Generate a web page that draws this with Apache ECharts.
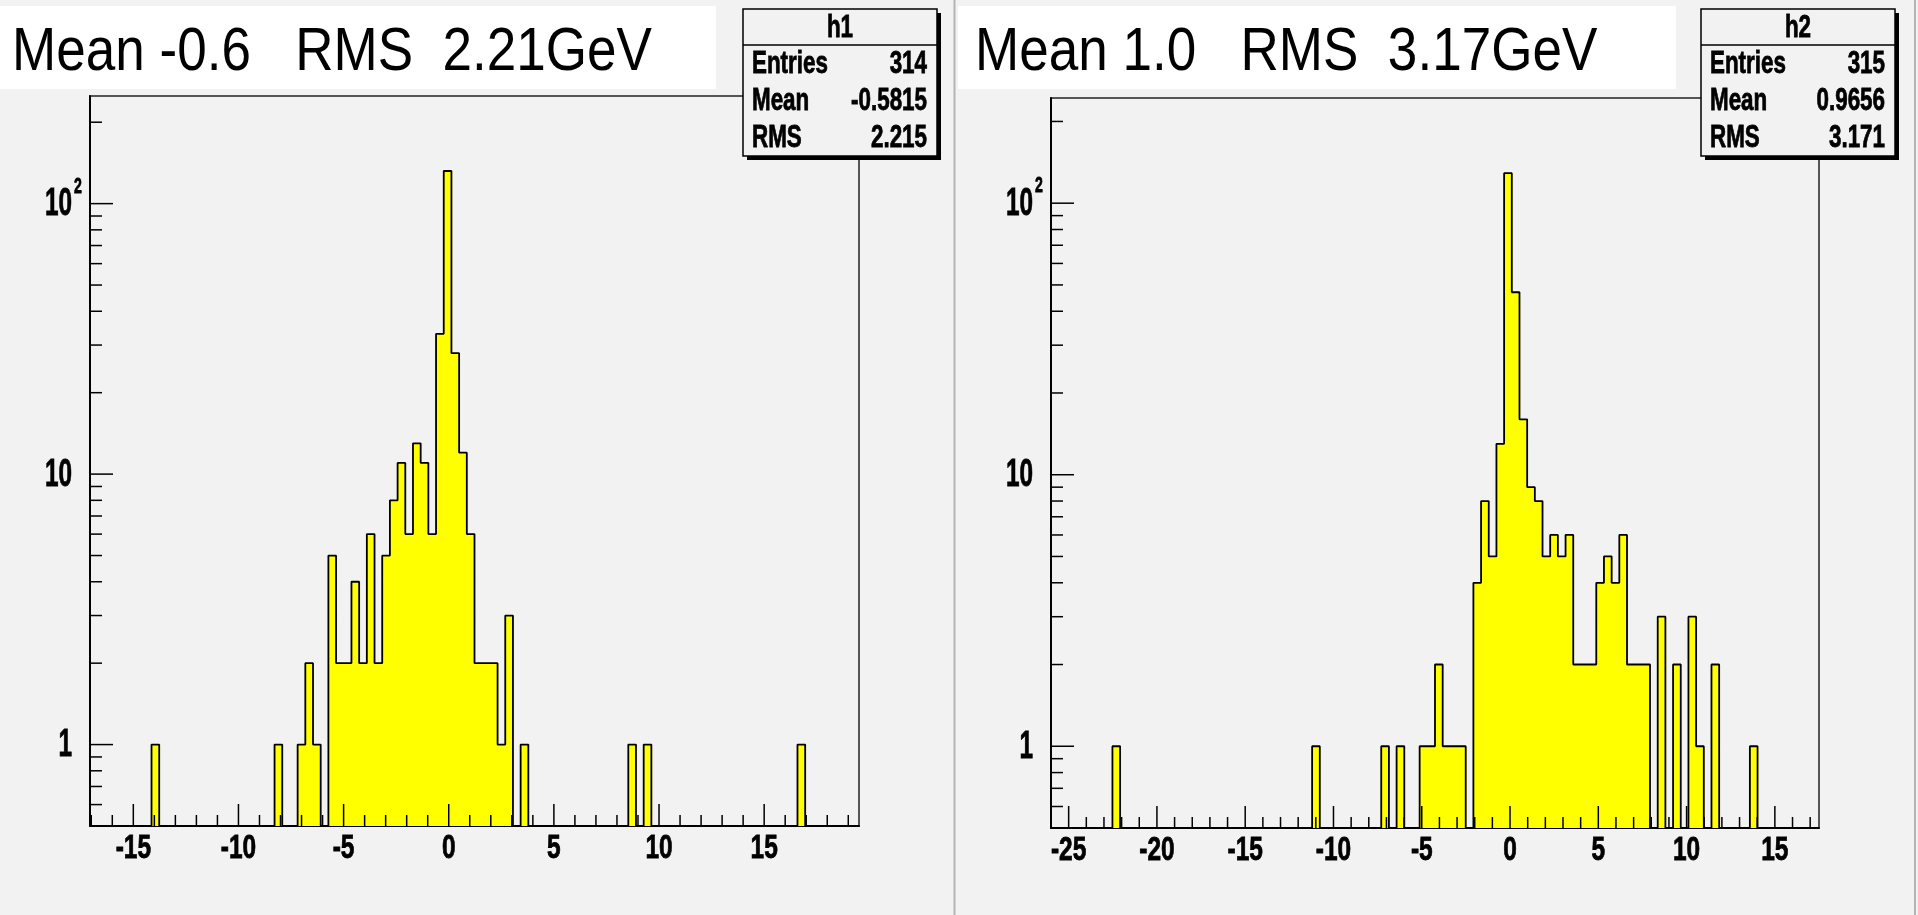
<!DOCTYPE html>
<html>
<head>
<meta charset="utf-8">
<title>h1 / h2</title>
<script src="https://cdn.jsdelivr.net/npm/echarts@6/dist/echarts.min.js"></script>
<style>
  html, body { margin: 0; padding: 0; background: #f2f2f2; }
  #main { width: 1918px; height: 915px; }
</style>
</head>
<body>
<div id="main"></div>
<script>
// ---- histogram contents (100 equal bins each, only non-empty bins listed) ----
const nBins = 100;

const h1Range = [-17.06, 19.51];
const h1Bins   = [8, 24, 27, 28, 29, 31, 32, 33, 34, 35, 36, 37, 38, 39, 40, 41, 42, 43, 44, 45, 46, 47, 48, 49, 50, 51, 52, 53, 54, 56, 70, 72, 92];
const h1Counts = [1, 1, 1, 2, 1, 5, 2, 2, 4, 2, 6, 2, 5, 8, 11, 6, 13, 11, 6, 33, 132, 28, 12, 6, 2, 2, 2, 1, 3, 1, 1, 1, 1];

const h2Range = [-26, 17.5];
const h2Bins   = [8, 34, 43, 45, 48, 49, 50, 51, 52, 53, 55, 56, 57, 58, 59, 60, 61, 62, 63, 64, 65, 66, 67, 68, 69, 70, 71, 72, 73, 74, 75, 76, 77, 79, 81, 83, 84, 86, 91];
const h2Counts = [1, 1, 1, 1, 1, 1, 2, 1, 1, 1, 4, 8, 5, 13, 129, 47, 16, 9, 8, 5, 6, 5, 6, 2, 2, 2, 4, 5, 4, 6, 2, 2, 2, 3, 2, 3, 1, 2, 1];

// ---- axes ----
const yRange1 = [0.5, 250];
const yRange2 = [0.5, 244];
const xTickLabels1 = [-15, -10, -5, 0, 5, 10, 15];
const xTickLabels2 = [-25, -20, -15, -10, -5, 0, 5, 10, 15];
const yMajorTicks = [1, 10, 100];
const yMajorBase  = ['1', '10', '10'];
const yMajorExp   = ['', '', '2'];
const yMinorTicks = [0.6, 0.7, 0.8, 0.9, 2, 3, 4, 5, 6, 7, 8, 9, 20, 30, 40, 50, 60, 70, 80, 90, 200];

// ---- texts ----
const titles = ['Mean -0.6   RMS  2.21GeV', 'Mean 1.0   RMS  3.17GeV'];
const statNames = ['h1', 'h2'];
const statLabels = ['Entries', 'Mean', 'RMS'];
const statValues1 = ['314', '-0.5815', '2.215'];
const statValues2 = ['315', '0.9656', '3.171'];

// ---- layout ----
const FONT = '"Liberation Sans", Arial, Helvetica, sans-serif';
const panels = [
  { grid: { left: 90, top: 96, width: 769, height: 730 },
    range: h1Range, bins: h1Bins, counts: h1Counts, yRange: yRange1, xTicks: xTickLabels1,
    title: titles[0], titleBox: [0, 6, 716, 83], titleX: 12,
    stat: { x: 743, y: 9, w: 194, h: 147 }, name: statNames[0], values: statValues1 },
  { grid: { left: 1051, top: 98, width: 768, height: 730 },
    range: h2Range, bins: h2Bins, counts: h2Counts, yRange: yRange2, xTicks: xTickLabels2,
    title: titles[1], titleBox: [958, 6, 718, 83], titleX: 975,
    stat: { x: 1701, y: 9, w: 194, h: 147 }, name: statNames[1], values: statValues2 }
];

// step outline of a histogram; empty bins sit on the lower edge of the log axis
function stepPoints(range, bins, counts, floor) {
  const w = (range[1] - range[0]) / nBins;
  const full = new Array(nBins).fill(0);
  bins.forEach((b, i) => { full[b] = counts[i]; });
  const pts = [];
  for (let k = 0; k < nBins; k++) {
    const y = full[k] > 0 ? full[k] : floor;
    pts.push([range[0] + k * w, y], [range[0] + (k + 1) * w, y]);
  }
  return pts;
}

// horizontal squeeze so a string occupies a given width
function squeeze(text, font, width) {
  const ctx = document.createElement('canvas').getContext('2d');
  ctx.font = font;
  return width / ctx.measureText(text).width;
}

const titleScale = squeeze(titles[0], '62px ' + FONT, 640);
const LABEL_SX = 0.72;
const YLABEL_SX = 0.64;
const STAT_SX = 0.70;
// thin outline on the glyphs to thicken the bold labels
const heavy = { stroke: '#000', lineWidth: 0.8 };

const grids = [], xAxes = [], yAxes = [], series = [], graphics = [];

panels.forEach((p, i) => {
  grids.push(Object.assign({ show: true, borderColor: '#222', borderWidth: 1.5, backgroundColor: 'transparent' }, p.grid));
  xAxes.push({
    type: 'value', gridIndex: i, min: p.range[0], max: p.range[1],
    axisLine: { show: true, onZero: false, lineStyle: { color: '#000', width: 2 } },
    axisTick: { show: false }, axisLabel: { show: false }, splitLine: { show: false }
  });
  yAxes.push({
    type: 'log', logBase: 10, gridIndex: i, min: p.yRange[0], max: p.yRange[1],
    axisLine: { show: true, onZero: false, lineStyle: { color: '#000', width: 2 } },
    axisTick: { show: false }, axisLabel: { show: false }, splitLine: { show: false }
  });

  // filled histogram
  series.push({
    type: 'line', xAxisIndex: i, yAxisIndex: i,
    data: stepPoints(p.range, p.bins, p.counts, p.yRange[0]),
    symbol: 'none', showSymbol: false, smooth: false, silent: true, clip: true, z: 2,
    lineStyle: { color: '#000', width: 1.8 },
    areaStyle: { color: '#ffff00', opacity: 1, origin: 'start' }
  });

  // x ticks: major every 5, minor every 1 (pointing into the frame)
  const xTickData = [];
  for (let v = Math.ceil(p.range[0]); v <= Math.floor(p.range[1]); v++) {
    if (v <= p.range[0] || v >= p.range[1]) continue;
    xTickData.push([v, p.yRange[0], p.xTicks.indexOf(v) >= 0 ? 1 : 0]);
  }
  series.push({
    type: 'custom', xAxisIndex: i, yAxisIndex: i, clip: false, silent: true, z: 5,
    data: xTickData,
    renderItem: (params, api) => {
      const c = api.coord([api.value(0), api.value(1)]);
      const len = api.value(2) ? 22 : 11;
      return { type: 'line', shape: { x1: c[0], y1: c[1], x2: c[0], y2: c[1] - len },
               style: { stroke: '#000', lineWidth: 1.5 } };
    }
  });

  // y ticks: decades long, 2..9 sub-decades short
  const yTickData = yMajorTicks.map(v => [p.range[0], v, 1])
    .concat(yMinorTicks.filter(v => v > p.yRange[0] && v < p.yRange[1]).map(v => [p.range[0], v, 0]));
  series.push({
    type: 'custom', xAxisIndex: i, yAxisIndex: i, clip: false, silent: true, z: 5,
    data: yTickData,
    renderItem: (params, api) => {
      const c = api.coord([api.value(0), api.value(1)]);
      const len = api.value(2) ? 23 : 12;
      return { type: 'line', shape: { x1: c[0], y1: c[1], x2: c[0] + len, y2: c[1] },
               style: { stroke: '#000', lineWidth: 1.5 } };
    }
  });

  // x tick labels
  series.push({
    type: 'custom', xAxisIndex: i, yAxisIndex: i, clip: false, silent: true, z: 6,
    data: p.xTicks.map(v => [v, p.yRange[0]]),
    renderItem: (params, api) => {
      const v = api.value(0);
      const c = api.coord([v, api.value(1)]);
      return { type: 'text', x: c[0], y: c[1] + 23, scaleX: LABEL_SX,
               style: Object.assign({ text: String(v), align: 'center', verticalAlign: 'middle',
                        fontFamily: FONT, fontWeight: 'bold', fontSize: 34, fill: '#000' }, heavy) };
    }
  });

  // y tick labels (10^2 with a raised exponent)
  series.push({
    type: 'custom', xAxisIndex: i, yAxisIndex: i, clip: false, silent: true, z: 6,
    data: yMajorTicks.map((v, j) => [p.range[0], v, j]),
    renderItem: (params, api) => {
      const j = api.value(2);
      const c = api.coord([api.value(0), api.value(1)]);
      const children = [{
        type: 'text', x: c[0] - 18, y: c[1] + 1, scaleX: YLABEL_SX,
        style: Object.assign({ text: yMajorBase[j], align: 'right', verticalAlign: 'middle',
                 fontFamily: FONT, fontWeight: 'bold', fontSize: 38, fill: '#000' }, heavy)
      }];
      if (yMajorExp[j]) {
        children.push({
          type: 'text', x: c[0] - 16, y: c[1] - 17, scaleX: YLABEL_SX,
          style: Object.assign({ text: yMajorExp[j], align: 'left', verticalAlign: 'middle',
                   fontFamily: FONT, fontWeight: 'bold', fontSize: 22, fill: '#000' }, heavy)
        });
      }
      return { type: 'group', children: children };
    }
  });

  // title box
  const tb = p.titleBox;
  graphics.push({ type: 'rect', shape: { x: tb[0], y: tb[1], width: tb[2], height: tb[3] },
                  style: { fill: '#ffffff' }, z: 1, silent: true });
  graphics.push({ type: 'text', x: p.titleX, y: 53, scaleX: titleScale, z: 2, silent: true,
                  style: { text: p.title, align: 'left', verticalAlign: 'middle',
                           fontFamily: FONT, fontSize: 62, fill: '#000' } });

  // statistics box with drop shadow
  const s = p.stat;
  graphics.push({ type: 'rect', shape: { x: s.x + 4, y: s.y + 4, width: s.w, height: s.h },
                  style: { fill: '#000' }, z: 100, silent: true });
  graphics.push({ type: 'rect', shape: { x: s.x, y: s.y, width: s.w, height: s.h },
                  style: { fill: '#f2f2f2', stroke: '#000', lineWidth: 1.5 }, z: 101, silent: true });
  graphics.push({ type: 'line', shape: { x1: s.x, y1: s.y + 36, x2: s.x + s.w, y2: s.y + 36 },
                  style: { stroke: '#000', lineWidth: 1.5 }, z: 102, silent: true });
  graphics.push({ type: 'text', x: s.x + s.w / 2, y: s.y + 19, scaleX: STAT_SX, z: 102, silent: true,
                  style: Object.assign({ text: p.name, align: 'center', verticalAlign: 'middle',
                           fontFamily: FONT, fontWeight: 'bold', fontSize: 32, fill: '#000' }, heavy) });
  statLabels.forEach((lab, r) => {
    const cy = s.y + 55 + r * 37;
    graphics.push({ type: 'text', x: s.x + 9, y: cy, scaleX: STAT_SX, z: 102, silent: true,
                    style: Object.assign({ text: lab, align: 'left', verticalAlign: 'middle',
                             fontFamily: FONT, fontWeight: 'bold', fontSize: 32, fill: '#000' }, heavy) });
    graphics.push({ type: 'text', x: s.x + s.w - 10, y: cy, scaleX: STAT_SX, z: 102, silent: true,
                    style: Object.assign({ text: p.values[r], align: 'right', verticalAlign: 'middle',
                             fontFamily: FONT, fontWeight: 'bold', fontSize: 32, fill: '#000' }, heavy) });
  });
});

// pad separators
graphics.push({ type: 'line', shape: { x1: 954.5, y1: 0, x2: 954.5, y2: 915 },
                style: { stroke: '#b4b4b4', lineWidth: 2 }, z: 1, silent: true });
graphics.push({ type: 'line', shape: { x1: 1915, y1: 0, x2: 1915, y2: 915 },
                style: { stroke: '#b4b4b4', lineWidth: 2 }, z: 1, silent: true });

const chart = echarts.init(document.getElementById('main'), null, { renderer: 'canvas' });
chart.setOption({
  backgroundColor: '#f2f2f2',
  animation: false,
  grid: grids,
  xAxis: xAxes,
  yAxis: yAxes,
  series: series,
  graphic: { elements: graphics }
});
</script>
</body>
</html>
